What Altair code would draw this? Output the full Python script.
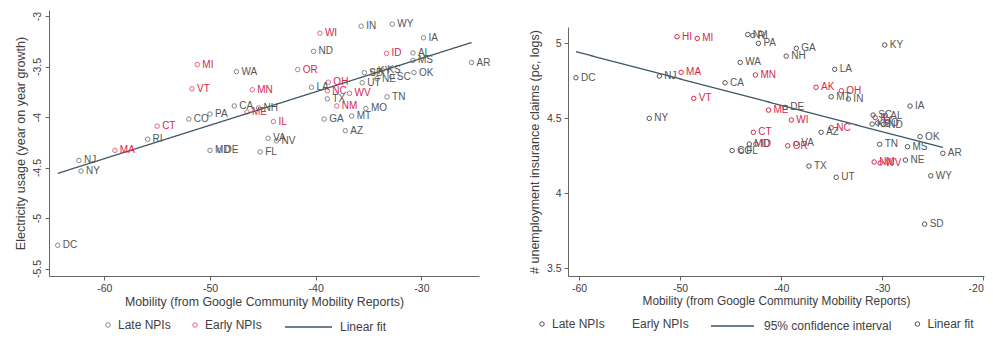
import altair as alt
import pandas as pd

FONT = "Liberation Sans"
RED = "#d7264e"
GREY = "#555555"
TEXT = "#404040"
AXIS = "#666666"
FIT_COLOR = "#3f5666"

# States that introduced non-pharmaceutical interventions early
early_npi = ["MI", "VT", "CT", "MA", "OR", "WI", "ID", "OH", "NC", "WV",
             "NM", "MN", "ME", "IL", "HI", "AK"]
group_labels = ["Late NPIs", "Early NPIs"]

# Panel 1: electricity usage vs mobility
elec_states = ["MI", "VT", "WA", "CT", "CO", "PA", "CA", "RI", "MA", "NJ",
               "NY", "DC", "MD", "DE", "OR", "WI", "IN", "WY", "IA", "ND",
               "ID", "AL", "MS", "AR", "OK", "SD", "KY", "KS", "SC", "NE",
               "UT", "OH", "LA", "NC", "WV", "TX", "TN", "NM", "MO", "MT",
               "GA", "AZ", "MN", "ME", "NH", "IL", "VA", "NV", "FL"]
elec_mobility = [-51.2, -51.7, -47.5, -55.0, -52.0, -50.0, -47.7, -55.9, -59.0, -62.4,
                 -62.2, -64.4, -50.0, -49.1, -41.7, -39.6, -35.7, -32.75, -29.8, -40.2,
                 -33.3, -30.8, -30.8, -25.25, -30.7, -35.4, -34.6, -33.7, -32.8, -34.2,
                 -35.6, -38.8, -40.4, -38.9, -36.8, -38.9, -33.25, -38.0, -35.25, -36.6,
                 -39.2, -37.2, -46.0, -46.5, -45.4, -44.0, -44.5, -43.7, -45.25]
elec_growth = [-3.48, -3.72, -3.55, -4.09, -4.02, -3.97, -3.89, -4.22, -4.33, -4.43,
               -4.535, -5.27, -4.33, -4.33, -3.53, -3.17, -3.10, -3.08, -3.215, -3.35,
               -3.37, -3.365, -3.44, -3.46, -3.56, -3.56, -3.545, -3.535, -3.60, -3.62,
               -3.66, -3.655, -3.705, -3.74, -3.765, -3.82, -3.80, -3.89, -3.915, -3.99,
               -4.02, -4.135, -3.73, -3.95, -3.91, -4.045, -4.21, -4.235, -4.345]

# Panel 2: unemployment insurance claims vs mobility
ui_states = ["DC", "HI", "MI", "NJ", "MA", "VT", "CA", "NY", "NV", "RI",
             "PA", "GA", "NH", "WA", "MN", "KY", "LA", "AK", "OH", "MT",
             "IN", "ME", "DE", "WI", "IA", "CT", "NC", "AZ", "OR", "VA",
             "MD", "ID", "FL", "CO", "TN", "MS", "OK", "AR", "NE", "NM",
             "WV", "TX", "UT", "WY", "SD", "SC", "AL", "IL", "KS", "MO", "ND"]
ui_mobility = [-60.3, -50.3, -48.3, -52.05, -49.9, -48.65, -45.55, -53.05, -43.3, -42.8,
               -42.25, -38.5, -39.5, -44.05, -42.55, -29.75, -34.7, -36.55, -34.05, -35.05,
               -33.35, -41.25, -39.6, -39.0, -27.25, -42.75, -35.05, -36.05, -39.35, -38.5,
               -43.15, -42.5, -43.95, -44.85, -30.25, -27.5, -26.25, -24.0, -27.7, -30.8,
               -30.2, -37.25, -34.55, -25.2, -25.8, -30.9, -29.7, -30.7, -31.0, -30.45, -29.9]
ui_claims = [4.771, 5.044, 5.033, 4.782, 4.807, 4.633, 4.737, 4.50, 5.059, 5.052,
             5.00, 4.967, 4.915, 4.873, 4.789, 4.989, 4.827, 4.707, 4.684, 4.644,
             4.629, 4.555, 4.573, 4.489, 4.582, 4.407, 4.437, 4.407, 4.317, 4.333,
             4.329, 4.329, 4.285, 4.285, 4.327, 4.311, 4.378, 4.267, 4.222, 4.209,
             4.202, 4.182, 4.107, 4.117, 3.795, 4.522, 4.519, 4.505, 4.462, 4.469, 4.459]

x_title = "Mobility (from Google Community Mobility Reports)"
fit_label_left = "Linear fit"
ci_label_right = "95% confidence interval"
fit_label_right = "Linear fit"


def frame(states, mobility, values, line_key, marker_key):
    return pd.DataFrame({
        "state": states,
        "mobility": mobility,
        "value": values,
        "npi": [group_labels[1] if s in early_npi else group_labels[0] for s in states],
        "line_key": line_key,
        "marker_key": marker_key,
    })


axis_style = dict(
    domainColor=AXIS, tickColor=AXIS, tickSize=4, grid=False,
    labelFont=FONT, labelFontSize=10.5, labelColor=TEXT, labelPadding=3,
    titleFont=FONT, titleFontWeight="normal", titleColor=TEXT,
)
legend_style = dict(
    title=None, orient="none", direction="horizontal", padding=0,
    labelFont=FONT, labelFontSize=12, labelColor=TEXT,
)

# marker outline colours per group
npi_scale = alt.Scale(domain=group_labels, range=[GREY, RED])
# label text colours (listed in the other order so this scale keeps no legend of its own)
npi_text_scale = alt.Scale(domain=group_labels[::-1], range=[RED, GREY])
npi_shape_scale = alt.Scale(domain=group_labels, range=["circle", "circle"])
# legend rings take the colour of their group
npi_ring_color = alt.ExprRef(f"datum.value == '{group_labels[1]}' ? '{RED}' : '{GREY}'")

# ---------------- left panel ----------------
df_l = frame(elec_states, elec_mobility, elec_growth, fit_label_left, "")
x_l = alt.X("mobility:Q",
            scale=alt.Scale(domain=[-65.23, -24.55], nice=False, zero=False),
            axis=alt.Axis(values=[-60, -50, -40, -30], title=x_title, titlePadding=2,
                          titleFontSize=12.35, labelExpr="toString(datum.value)", **axis_style))
y_l = alt.Y("value:Q",
            scale=alt.Scale(domain=[-5.574, -2.94], nice=False, zero=False),
            axis=alt.Axis(values=[-5.5, -5, -4.5, -4, -3.5, -3],
                          title="Electricity usage (year on year growth)", titleFontSize=12.5,
                          labelAngle=270, labelAlign="center", labelBaseline="bottom",
                          titlePadding=5, labelExpr="toString(datum.value)", **axis_style))

base_l = alt.Chart(df_l)
fit_l = base_l.transform_regression("mobility", "value", groupby=["line_key"]).mark_line(
    color=FIT_COLOR, strokeWidth=1.3
).encode(
    x=x_l, y=y_l,
    strokeDash=alt.StrokeDash(
        "line_key:N",
        scale=alt.Scale(domain=[fit_label_left], range=[[1, 0]]),
        legend=alt.Legend(legendX=235, legendY=292.5, symbolSize=2209, labelOffset=7,
                          symbolStrokeWidth=1.3, **legend_style),
    ),
)
pts_l = base_l.mark_point(filled=False, size=20, strokeWidth=1).encode(
    x=x_l, y=y_l,
    stroke=alt.Stroke("npi:N", scale=npi_scale, legend=None),
    shape=alt.Shape("npi:N", scale=npi_shape_scale,
                    legend=alt.Legend(legendX=53, legendY=309, columnPadding=18,
                                      labelOffset=4, symbolSize=20, symbolStrokeWidth=1,
                                      symbolStrokeColor=npi_ring_color,
                                      symbolFillColor="transparent", **legend_style)),
)
txt_l = base_l.mark_text(align="left", baseline="middle", dx=5, font=FONT, fontSize=10).encode(
    x=x_l, y=y_l, text="state:N",
    fill=alt.Fill("npi:N", scale=npi_text_scale, legend=None),
)
left = alt.layer(fit_l, pts_l, txt_l).properties(width=430, height=266)

# ---------------- right panel ----------------
df_r = frame(ui_states, ui_mobility, ui_claims, ci_label_right, fit_label_right)
x_r = alt.X("mobility:Q",
            scale=alt.Scale(domain=[-61.09, -19.93], nice=False, zero=False),
            axis=alt.Axis(values=[-60, -50, -40, -30, -20], title=x_title, titlePadding=2,
                          titleFontSize=11.85, labelExpr="toString(datum.value)", **axis_style))
y_r = alt.Y("value:Q",
            scale=alt.Scale(domain=[3.449, 5.109], nice=False, zero=False, range=[266, 17]),
            axis=alt.Axis(values=[3.5, 4, 4.5, 5],
                          title="# unemployment insurance claims (pc, logs)", titleFontSize=12.5,
                          titlePadding=5, labelExpr="toString(datum.value)", **axis_style))

base_r = alt.Chart(df_r)
fit_r = base_r.transform_regression("mobility", "value", groupby=["line_key"]).mark_line(
    color=FIT_COLOR, strokeWidth=1.3
).encode(
    x=x_r, y=y_r,
    strokeDash=alt.StrokeDash(
        "line_key:N",
        scale=alt.Scale(domain=[ci_label_right], range=[[1, 0]]),
        legend=alt.Legend(legendX=142, legendY=293.5, symbolSize=1849, labelOffset=9,
                          symbolStrokeWidth=1.3, **legend_style),
    ),
)
pts_r = base_r.mark_point(filled=False, size=20, strokeWidth=1).encode(
    x=x_r, y=y_r,
    stroke=alt.Stroke("npi:N", scale=npi_scale, legend=None),
    shape=alt.Shape("npi:N", scale=npi_shape_scale,
                    legend=alt.Legend(legendX=-32, legendY=308, columnPadding=11,
                                      labelOffset=4, symbolSize=20, symbolStrokeWidth=1,
                                      symbolStrokeColor=npi_ring_color,
                                      symbolFillColor="transparent",
                                      symbolOpacity=alt.ExprRef(
                                          f"datum.value == '{group_labels[1]}' ? 0 : 1"),
                                      **legend_style)),
    opacity=alt.Opacity(
        "marker_key:N",
        scale=alt.Scale(domain=[fit_label_right], range=[1, 1]),
        legend=alt.Legend(legendX=343.5, legendY=308, labelOffset=4, symbolSize=20,
                          symbolType="circle", symbolStrokeWidth=1, symbolStrokeColor=GREY,
                          symbolFillColor="transparent", **legend_style),
    ),
)
txt_r = base_r.mark_text(align="left", baseline="middle", dx=5, font=FONT, fontSize=10).encode(
    x=x_r, y=y_r, text="state:N",
    fill=alt.Fill("npi:N", scale=npi_text_scale, legend=None),
)
right = alt.layer(fit_r, pts_r, txt_r).properties(width=416, height=266)

chart = alt.hconcat(left, right, spacing=89, bounds="flush").resolve_scale(
    stroke="independent", fill="independent", strokeDash="independent",
    shape="independent", opacity="independent"
).resolve_legend(
    stroke="independent", fill="independent", strokeDash="independent",
    shape="independent", opacity="independent"
).properties(
    padding={"left": 14, "top": 10, "right": 5, "bottom": 5},
    background="white",
).configure_view(stroke=None)

chart.save("out.html", embed_options={"renderer": "svg", "actions": False})
